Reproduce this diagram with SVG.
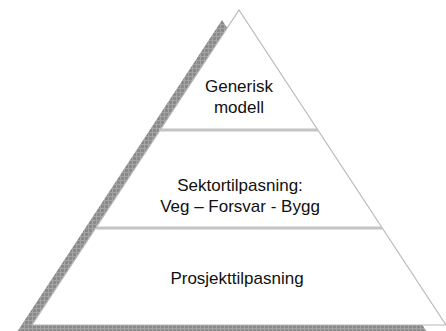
<svg xmlns="http://www.w3.org/2000/svg" width="446" height="331" viewBox="0 0 446 331">
  <style>
    .lbl { font-family: "Liberation Sans", Arial, sans-serif; font-size: 17px; fill: #111; text-anchor: middle; }
    .tier { stroke: #c4c4c4; stroke-width: 3; }
  </style>
  <defs>
    <pattern id="dither" width="4" height="4" patternUnits="userSpaceOnUse">
      <rect width="4" height="4" fill="#8a8a8a"/>
      <path d="M0 0.5H4M0.5 0V4" stroke="#a4a4a4" stroke-width="1"/>
    </pattern>
  </defs>
  <rect width="446" height="331" fill="#fff"/>
  <!-- drop shadow -->
  <polygon points="222,20 15,335 429,335" fill="url(#dither)"/>
  <!-- pyramid body -->
  <g id="pyramid">
    <polygon points="239,10 32,325 446,325" fill="#fff" stroke="#b8b8b8" stroke-width="1.2"/>
  </g>
  <g id="connectors">
    <line class="tier" x1="159" y1="130" x2="318" y2="130"/>
    <line class="tier" x1="96" y1="228" x2="382" y2="228"/>
  </g>
  <g id="tier-generic">
    <text class="lbl" x="239" y="92">Generisk</text>
    <text class="lbl" x="239" y="113">modell</text>
  </g>
  <g id="tier-sector">
    <text class="lbl" x="240" y="191">Sektortilpasning:</text>
    <text class="lbl" x="240" y="212">Veg – Forsvar - Bygg</text>
  </g>
  <g id="tier-project">
    <text class="lbl" x="237" y="284">Prosjekttilpasning</text>
  </g>
</svg>
